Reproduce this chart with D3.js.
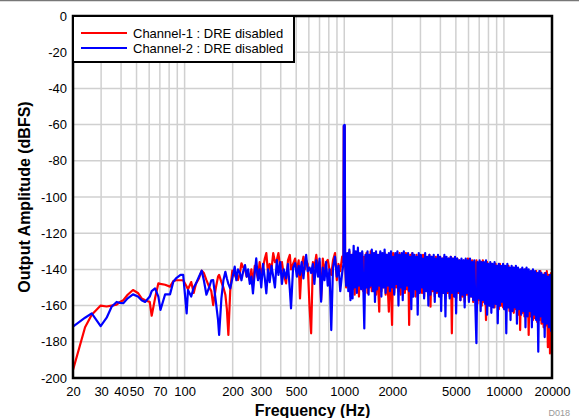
<!DOCTYPE html>
<html><head><meta charset="utf-8">
<script src="https://cdn.jsdelivr.net/npm/d3@7"></script>
<style>
html,body{margin:0;padding:0;background:#fff;}
svg{display:block;font-family:"Liberation Sans",Arial,Helvetica,sans-serif;}
</style></head>
<body>
<svg id="chart" width="579" height="418"></svg>
<script>
// ---- data ----
const freq = [
20, 23.8, 26.2, 29.8, 32.5, 34.9, 37.5, 39.4, 41.3, 44,
47.5, 51, 53.8, 56.6, 60.5, 62.2, 65.3, 68.5, 70.6, 75.5,
81, 85, 88.3, 94.3, 98, 103, 105, 110, 114, 118,
123, 128, 132, 137, 143, 147, 151, 157, 162, 164.5,
170, 175, 180, 184, 188, 193, 199, 206, 211, 216,
222, 227, 233, 239, 245, 250, 256, 262, 268, 275,
281, 288, 295, 302, 310, 318, 325, 333, 341, 350,
359, 368, 378, 387, 397, 407, 418, 432, 444, 456,
464, 478, 492, 505, 518, 528, 541, 555, 566, 577,
590, 606, 620, 636, 650, 668, 685, 700, 716, 734,
752, 770, 788, 808, 829, 850, 875, 898, 920, 944,
970, 988, 993, 1007, 1012,
1028, 1044, 1060, 1076, 1093, 1110, 1127, 1145, 1162,
1180, 1199, 1217, 1236, 1255, 1275, 1295, 1315, 1335, 1356,
1377, 1398, 1420, 1442, 1464, 1487, 1510, 1533, 1557, 1581,
1606, 1631, 1656, 1682, 1708, 1734, 1761, 1789, 1816, 1845,
1873, 1902, 1932, 1962, 1992, 2023, 2055, 2087, 2119, 2152,
2185, 2219, 2254, 2289, 2324, 2360, 2397, 2434, 2472, 2510,
2549, 2589, 2629, 2670, 2711, 2753, 2796, 2839, 2883, 2928,
2974, 3020, 3067, 3114, 3162, 3211, 3261, 3312, 3363, 3415,
3468, 3522, 3577, 3632, 3688, 3746, 3804, 3863, 3923, 3984,
4045, 4108, 4172, 4237, 4302, 4369, 4437, 4505, 4575, 4646,
4718, 4792, 4866, 4942, 5018, 5096, 5175, 5256, 5337, 5420,
5504, 5590, 5676, 5764, 5854, 5945, 6037, 6130, 6226, 6322,
6420, 6520, 6621, 6724, 6828, 6934, 7041, 7150, 7261, 7374,
7488, 7604, 7722, 7842, 7964, 8087, 8213, 8340, 8469, 8601,
8734, 8869, 9007, 9147, 9289, 9433, 9579, 9727, 9878, 10031,
10187, 10345, 10505, 10668, 10833, 11001, 11172, 11345, 11521, 11699,
11880, 12065, 12252, 12442, 12634, 12830, 13029, 13231, 13436, 13644,
13856, 14070, 14289, 14510, 14735, 14963, 15195, 15431, 15670, 15913,
16159, 16410, 16664, 16922, 17185, 17451, 17721, 17996, 18275, 18558,
18846, 19138, 19434, 19735, 20000
];
// Channel-1 (red), dBFS
const ch1 = [
-195.6, -172, -165, -160, -160.5, -160, -159.5, -158, -157, -154,
-151.4, -153, -156, -157, -158, -165.6, -156, -147.7, -148, -148.5,
-149.5, -146.5, -146, -146, -146, -149.5, -151, -147, -153, -147.7,
-145, -140.7, -142, -145.9, -150, -152, -159.7, -150, -144, -143,
-147, -150, -154, -162, -176.2, -152, -140.7, -143, -145, -145.9,
-142, -136.6, -139, -140, -144, -142, -146, -140, -148, -138,
-141, -145, -136, -143, -139, -134, -131, -142, -137, -140,
-131, -136, -134.8, -131, -139, -136, -143, -147.7, -135, -132,
-140, -137, -134, -141, -135, -156, -138, -133, -140, -135,
-137, -160.6, -175.3, -136, -139, -132, -141, -136, -157, -134,
-142, -136, -134.8, -140, -143, -135, -131, -146, -137, -141,
-133, -136, -61, -61, -135,
-150, -132, -148, -130, -155, -133, -151, -131, -154,
-132, -149, -130, -155, -132, -150, -131, -152, -133, -150,
-131, -153, -132, -150, -130, -152, -133, -149, -131, -154,
-132, -150, -163.4, -131, -152, -133, -150, -131, -154, -132,
-150, -163.4, -132, -151, -170.7, -131, -153, -132, -150, -133,
-152, -131, -154, -133, -150, -132, -153, -131, -151, -133,
-170.7, -132, -153, -131, -151, -134, -155, -132, -152, -133,
-150, -134, -153, -132, -155, -133, -151, -134, -154, -132,
-160.6, -133, -152, -134, -155, -133, -153, -135, -151, -133,
-155, -134, -152, -133, -156, -135, -153, -134, -155, -133,
-175.3, -134, -154, -135, -156, -134, -153, -135, -157, -136,
-155, -135, -158, -136, -154, -134, -157, -136, -155, -135,
-158, -136, -156, -135, -159, -137, -157, -136, -160, -135,
-158, -137, -168, -136, -159, -138, -160, -137, -158, -138,
-161, -137, -159, -138, -162, -137, -160, -139, -161, -138,
-162, -139, -160, -138, -163, -140, -161, -139, -164, -140,
-162, -140, -165, -141, -173.5, -140, -164, -141, -166, -140,
-165, -141, -176.2, -142, -166, -141, -168, -142, -167, -141,
-169, -142, -168, -141, -170, -143, -172, -142, -171, -141,
-183, -143, -186.4, -142, -185
];
// Channel-2 (blue), dBFS
const ch2 = [
-171.6, -166.7, -164.3, -171.3, -166.7, -160.6, -158, -158.5, -158.7, -156,
-153.8, -155, -157, -158, -155, -152, -150.5, -155, -162.4, -153.8,
-153.8, -146.8, -145, -143, -143, -164.3, -151.4, -155, -150, -147.7,
-144, -140.7, -146, -154, -149.5, -146, -145.9, -158, -168, -176.2,
-156, -146, -141.3, -145, -148, -150.5, -145, -138.5, -146, -140,
-142, -146, -141, -137.6, -144, -140, -148, -144, -153.2, -142,
-133.9, -146, -140, -150, -137, -145, -153.2, -140, -147, -138,
-144, -150, -134.8, -143, -136, -148, -140, -145, -137, -151,
-161.5, -139, -136.6, -144, -138, -143, -136, -145, -137, -132,
-141, -139, -142, -137, -148, -135, -144, -134, -157.8, -139,
-146, -136, -149, -140, -173.5, -139, -133, -144, -138, -152,
-142, -137, -60.5, -60.2, -136,
-149, -131, -152, -129, -157, -132, -156, -127, -150,
-130, -153, -128, -149, -131, -151, -130, -148, -172.6, -132,
-150, -130, -154, -132, -149, -129, -152, -131, -158, -130,
-151, -132, -149, -130, -155, -131, -150, -129, -153, -132,
-149, -131, -152, -130, -150, -133, -154, -131, -148, -130,
-160, -132, -150, -131, -157, -130, -151, -132, -149, -131,
-152, -133, -162, -131, -155, -132, -151, -133, -165, -131,
-153, -132, -150, -134, -156, -131, -152, -133, -160, -132,
-154, -133, -151, -132, -158, -134, -152, -132, -155, -133,
-163, -134, -153, -132, -166, -133, -152, -134, -156, -133,
-153, -134, -155, -133, -164.3, -134, -152, -135, -157, -134,
-154, -135, -161, -134, -153, -135, -158, -134, -155, -136,
-157, -135, -160, -180.8, -136, -156, -135, -163, -136, -157,
-136, -159, -135, -165, -137, -160, -136, -164, -137, -161,
-136, -159, -138, -169.8, -137, -160, -138, -158, -137, -162,
-138, -175.3, -137, -161, -139, -168, -138, -163, -139, -161,
-138, -170, -139, -162, -140, -165, -139, -163, -140, -172,
-139, -166, -140, -163, -141, -172, -140, -165, -141, -168,
-142, -185.5, -141, -166, -142, -169, -143, -177.4, -142, -170,
-144, -172, -143, -174, -145
];
const xTickLabels = [20, 30, 40, 50, 70, 100, 200, 300, 500, 1000, 2000, 5000, 10000, 20000];
const yTickLabels = [0, -20, -40, -60, -80, -100, -120, -140, -160, -180, -200];
const seriesNames = ["Channel-1 : DRE disabled", "Channel-2 : DRE disabled"];
const seriesColors = ["#ff0000", "#0000ff"];

// ---- drawing ----
const svg = d3.select("#chart");
const L = 73, R = 552, T = 16, B = 378;
const x = d3.scaleLog().domain([20, 20000]).range([L, R]);
const y = d3.scaleLinear().domain([-200, 0]).range([B, T]);

// top border of the figure
svg.append("line").attr("x1", 0).attr("x2", 579).attr("y1", 0.5).attr("y2", 0.5)
  .attr("stroke", "#777").attr("stroke-width", 1.5);

// grid
const grid = svg.append("g");
grid.selectAll("line.v").data(x.ticks()).join("line")
  .attr("x1", d => x(d)).attr("x2", d => x(d)).attr("y1", T).attr("y2", B)
  .attr("stroke", "#d0d0d0").attr("stroke-width", 1.5);
grid.selectAll("line.h").data(yTickLabels).join("line")
  .attr("x1", L).attr("x2", R).attr("y1", d => y(d)).attr("y2", d => y(d))
  .attr("stroke", "#d0d0d0").attr("stroke-width", 1.5);

svg.append("clipPath").attr("id", "clip").append("rect")
  .attr("x", L).attr("y", T).attr("width", R - L).attr("height", B - T);

const line = d3.line().x((d, i) => x(freq[i])).y(d => y(d));
const plot = svg.append("g").attr("clip-path", "url(#clip)");
[ch1, ch2].forEach((s, k) => {
  plot.append("path").datum(s).attr("d", line)
    .attr("fill", "none").attr("stroke", seriesColors[k])
    .attr("stroke-width", 2.2).attr("stroke-linejoin", "round");
});

// frame
svg.append("rect").attr("x", L).attr("y", T).attr("width", R - L).attr("height", B - T)
  .attr("fill", "none").attr("stroke", "#000").attr("stroke-width", 2.5);

// axes labels (hyphen-minus as in the reference)
const fmt = d => String(d);
const xAxis = d3.axisBottom(x).tickValues(xTickLabels).tickSize(0).tickPadding(0).tickFormat(fmt);
const gx = svg.append("g").attr("transform", `translate(0,${B + 9})`).call(xAxis);
gx.select(".domain").remove();
gx.selectAll("text").attr("font-size", 13).attr("font-family", "Liberation Sans, Arial, sans-serif").attr("fill", "#000");

const yAxis = d3.axisLeft(y).tickValues(yTickLabels).tickSize(0).tickPadding(0).tickFormat(fmt);
const gy = svg.append("g").attr("transform", `translate(${L - 6},0)`).call(yAxis);
gy.select(".domain").remove();
gy.selectAll("text").attr("font-size", 13).attr("font-family", "Liberation Sans, Arial, sans-serif").attr("fill", "#000");

svg.append("text").attr("x", (L + R) / 2).attr("y", 416).attr("text-anchor", "middle")
  .attr("font-size", 16).attr("font-weight", "bold").text("Frequency (Hz)");
svg.append("text").attr("transform", `translate(30,${(T + B) / 2}) rotate(-90)`)
  .attr("text-anchor", "middle").attr("font-size", 16).attr("font-weight", "bold")
  .text("Output Amplitude (dBFS)");
svg.append("text").attr("x", 570).attr("y", 416).attr("text-anchor", "end")
  .attr("font-size", 9).attr("fill", "#999").text("D018");

// legend
const lg = svg.append("g");
lg.append("rect").attr("x", L).attr("y", T).attr("width", 221).attr("height", 46)
  .attr("fill", "#fff").attr("stroke", "#000").attr("stroke-width", 2);
seriesNames.forEach((n, k) => {
  const yy = T + 17 + k * 15;
  lg.append("line").attr("x1", L + 8).attr("x2", L + 54).attr("y1", yy).attr("y2", yy)
    .attr("stroke", seriesColors[k]).attr("stroke-width", 2);
  lg.append("text").attr("x", L + 60).attr("y", yy + 4.5).attr("font-size", 13).text(n);
});
</script>
</body></html>
